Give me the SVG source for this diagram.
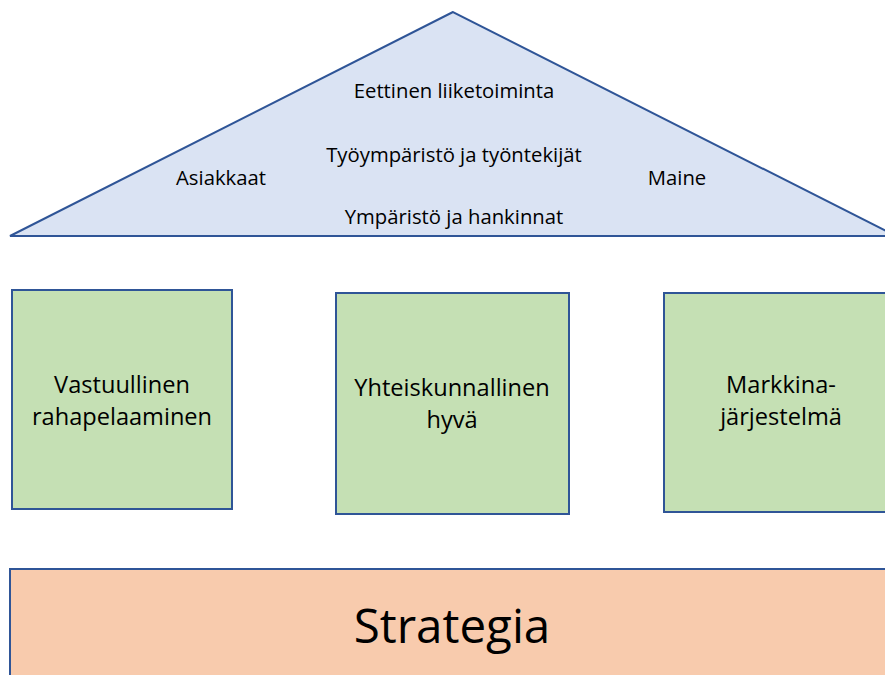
<svg xmlns="http://www.w3.org/2000/svg" width="885" height="675" viewBox="0 0 885 675">
<style>
.sh{stroke:#2F5597;stroke-width:2}
.t{font-family:"Open Sans","Liberation Sans",sans-serif;fill:#000;text-anchor:middle}
.s{font-size:20.3px}
.m{font-size:23.6px}
.l{font-size:47.5px}
</style>
<rect width="885" height="675" fill="#fff"/>
<g id="roof">
<polygon class="sh" points="453,12 10,236 896,236" fill="#DAE3F3"/>
<text class="t s" x="454" y="98">Eettinen liiketoiminta</text>
<text class="t s" x="454" y="162">Työympäristö ja työntekijät</text>
<text class="t s" x="221" y="185">Asiakkaat</text>
<text class="t s" x="677" y="185">Maine</text>
<text class="t s" x="454" y="224">Ympäristö ja hankinnat</text>
</g>
<g id="pillar1">
<rect class="sh" x="12" y="290" width="220" height="219" fill="#C5E0B4"/>
<text class="t m" x="122" y="393">Vastuullinen</text>
<text class="t m" x="122" y="425">rahapelaaminen</text>
</g>
<g id="pillar2">
<rect class="sh" x="336" y="293" width="233" height="221" fill="#C5E0B4"/>
<text class="t m" x="452" y="396">Yhteiskunnallinen</text>
<text class="t m" x="452" y="428">hyvä</text>
</g>
<g id="pillar3">
<rect class="sh" x="664" y="293" width="240" height="219" fill="#C5E0B4"/>
<text class="t m" x="781" y="393">Markkina-</text>
<text class="t m" x="781" y="425">järjestelmä</text>
</g>
<g id="strategy">
<rect class="sh" x="10" y="569" width="900" height="120" fill="#F8CBAD"/>
<text class="t l" x="452" y="643">Strategia</text>
</g>
<g id="connectors"/>
</svg>
